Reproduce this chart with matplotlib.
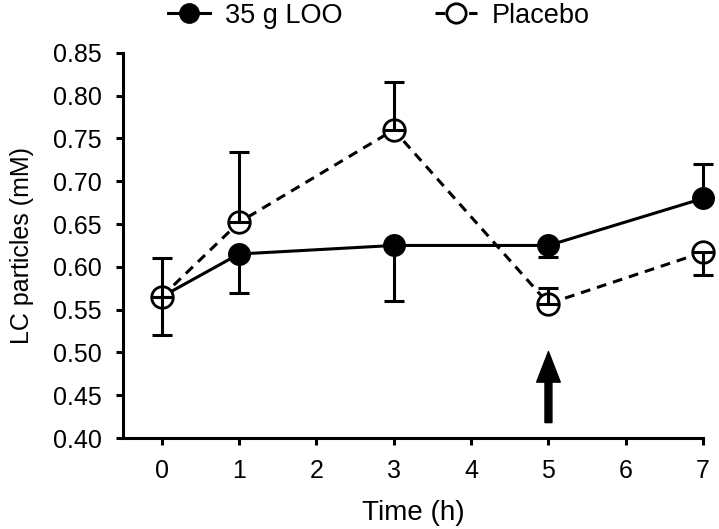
import numpy as np
import matplotlib.pyplot as plt

plt.rcParams['font.family'] = ['Liberation Sans', 'DejaVu Sans']

# Datos
time_h = [0, 1, 3, 5, 7]
loo_mean = [0.565, 0.615, 0.625, 0.625, 0.680]
loo_err_low = [0.045, 0.046, 0.065, 0.013, 0.0]
loo_err_high = [0.0, 0.0, 0.0, 0.0, 0.040]
placebo_mean = [0.565, 0.652, 0.760, 0.557, 0.617]
placebo_err_low = [0.0, 0.0, 0.0, 0.0, 0.027]
placebo_err_high = [0.045, 0.082, 0.056, 0.018, 0.0]
y_ticks = [0.40, 0.45, 0.50, 0.55, 0.60, 0.65, 0.70, 0.75, 0.80, 0.85]
x_ticks = [0, 1, 2, 3, 4, 5, 6, 7]
arrow_time = 5

fig = plt.figure(figsize=(7.19, 5.29), dpi=100)
ax = fig.add_axes([0.171, 0.172, 0.807, 0.728])

lw = 2.2
ms = 15.5


def draw_err(x, y, lo, hi):
    # barras de error de un solo lado, como en la figura original
    for i in range(len(x)):
        if lo[i] > 0:
            ax.errorbar(x[i], y[i], yerr=[[lo[i]], [0]], fmt='none', ecolor='black',
                        elinewidth=lw, capsize=7, capthick=lw, zorder=4, clip_on=False)
        if hi[i] > 0:
            ax.errorbar(x[i], y[i], yerr=[[0], [hi[i]]], fmt='none', ecolor='black',
                        elinewidth=lw, capsize=7, capthick=lw, zorder=4, clip_on=False)


ax.plot(time_h, loo_mean, '-o', color='black', lw=lw, ms=ms,
        markerfacecolor='black', label='35 g LOO', zorder=3, clip_on=False)
ax.plot(time_h, placebo_mean, '--o', color='black', lw=lw, ms=ms,
        markerfacecolor='white', markeredgewidth=2, dashes=(3.2, 2.3),
        label='Placebo', zorder=3, clip_on=False)
draw_err(time_h, loo_mean, loo_err_low, loo_err_high)
draw_err(time_h, placebo_mean, placebo_err_low, placebo_err_high)

# flecha en t = 5 h
ax.annotate('', xy=(arrow_time, 0.501), xytext=(arrow_time, 0.418),
            arrowprops=dict(width=5, headwidth=17, headlength=22, shrink=0,
                            color='black'))

ax.set_xlim(-0.5, 7)
ax.set_ylim(0.40, 0.85)
ax.set_xticks(x_ticks)
ax.set_yticks(y_ticks)
ax.set_yticklabels(['%.2f' % v for v in y_ticks])
ax.spines['top'].set_visible(False)
ax.spines['right'].set_visible(False)
ax.spines['left'].set_linewidth(2.2)
ax.spines['bottom'].set_linewidth(2.2)
ax.tick_params(direction='out', length=5, width=2.2, labelsize=18, pad=10)
ax.set_xlabel('Time (h)', fontsize=20, labelpad=12)
ax.set_ylabel('LC particles (mM)', fontsize=18, labelpad=14)

fig.legend(loc='center', bbox_to_anchor=(0.527, 0.970), ncol=2, frameon=False,
           fontsize=19.5, handlelength=1.55, columnspacing=3.4, handletextpad=0.55,
           markerscale=0.9)

fig.savefig('out.png', dpi=100)
